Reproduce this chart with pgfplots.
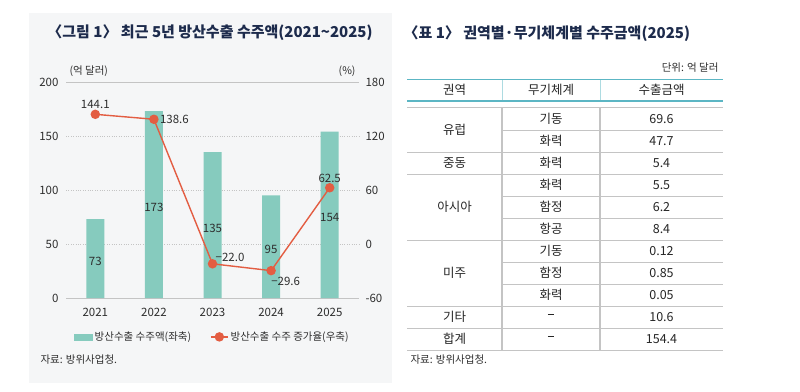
\documentclass[border=0pt]{standalone}
\usepackage{pgfplots}
\usepackage{pgfplotstable}
\pgfplotsset{compat=1.18}
\usepackage{fontspec}
\setmainfont{Noto Sans CJK KR}
\definecolor{bg}{HTML}{F5F6F7}
\definecolor{barc}{HTML}{86CBBE}
\definecolor{linec}{HTML}{E35D42}
\definecolor{navy}{HTML}{1D2B4C}
\definecolor{tealc}{HTML}{5CB6C4}
\definecolor{gridc}{HTML}{C4C4C4}
\definecolor{txt}{HTML}{2E2E2E}

\pgfplotstableread{
x v lab
0 73 73
1 173 173
2 135 135
3 95 95
4 154 154
}\bardata

\pgfplotstableread{
x y
0 144.1
1 138.6
2 -22.0
3 -29.6
4 62.5
}\linedata

\pgfplotsset{lbl/.style n args={3}{draw=none, mark=none, forget plot, nodes near coords, point meta=explicit symbolic,
  every node near coord/.append style={anchor=#1, xshift=#2, yshift=#3, font=\fontsize{11.5}{13}\selectfont, text=txt, inner sep=2pt}}}

\newcommand\dash{\rule[0.33em]{0.5em}{0.9pt}}

\begin{document}
\begin{tikzpicture}
\path[fill=white] (0pt,0pt) rectangle (800pt,-391pt);
\fill[bg] (29pt,-13pt) rectangle (392pt,-383pt);
\node[font=\fontsize{15}{17}\selectfont\bfseries, text=navy] at (210pt,-33pt) {〈그림 1〉 최근 5년 방산수출 수주액(2021\textasciitilde 2025)};

\begin{axis}[
  at={(66pt,-298pt)}, anchor=south west, scale only axis,
  width=293pt, height=216pt,
  xmin=-0.5, xmax=4.5, ymin=0, ymax=200,
  xtick={0,1,2,3,4}, xticklabels={2021,2022,2023,2024,2025},
  ytick={50,100,150},
  extra y ticks={0,200},
  extra y tick style={grid style={solid, gridc, line width=1pt}},
  axis line style={draw=none}, major tick length=0pt,
  ymajorgrids, grid style={gridc, dotted, line width=0.8pt},
  tick label style={font=\fontsize{11.5}{13}\selectfont, text=txt},
  /pgf/number format/assume math mode=true,
  yticklabel style={xshift=-4pt},
  xticklabel style={yshift=-7pt},
  clip=false,
]
\addplot[ybar, bar width=18pt, fill=barc, draw=none] table[x=x, y=v] {\bardata};
\addplot[draw=none, mark=none, nodes near coords, point meta=explicit symbolic,
  every node near coord/.append style={anchor=center, yshift=-3pt, font=\fontsize{11.5}{13}\selectfont, text=txt}]
  table[x=x, y expr=\thisrow{v}/2, meta=lab] {\bardata};
\end{axis}

\begin{axis}[
  at={(66pt,-298pt)}, anchor=south west, scale only axis,
  width=293pt, height=216pt,
  xmin=-0.5, xmax=4.5, ymin=-60, ymax=180,
  ytick={-60,0,60,120,180},
  hide x axis, axis y line*=right,
  axis line style={draw=none}, major tick length=0pt,
  tick label style={font=\fontsize{11.5}{13}\selectfont, text=txt},
  /pgf/number format/assume math mode=true,
  yticklabel style={xshift=3pt},
  clip=false,
  legend style={at={(0.5,-0.18)}, anchor=center, draw=none, fill=none,
    legend columns=2, font=\fontsize{10.5}{12}\selectfont, text=txt,
    /tikz/every even column/.append style={column sep=17pt}},
  legend cell align=left,
]
\addlegendimage{legend image code/.code={\fill[barc] (0pt,-3pt) rectangle (18pt,3pt);}}
\addlegendentry{방산수출 수주액(좌축)}
\addplot[linec, line width=1.4pt, mark=*, mark size=4pt] table[x=x, y=y] {\linedata};
\addlegendentry{방산수출 수주 증가율(우축)}
\addplot[lbl={south}{0pt}{3pt}] coordinates {(0,144.1)[144.1] (4,62.5)[62.5]};
\addplot[lbl={west}{4pt}{0pt}] coordinates {(1,138.6)[138.6]};
\addplot[lbl={south west}{1pt}{0pt}] coordinates {(2,-22.0)[−22.0]};
\addplot[lbl={north west}{-2pt}{-4pt}] coordinates {(3,-29.6)[−29.6]};
\end{axis}

\node[anchor=west, font=\fontsize{10.5}{12}\selectfont, text=txt] at (66pt,-71pt) {(억 달러)};
\node[anchor=east, font=\fontsize{10.5}{12}\selectfont, text=txt] at (359pt,-71pt) {(\%)};
\node[anchor=west, font=\fontsize{10.5}{12}\selectfont, text=txt] at (37pt,-360pt) {자료: 방위사업청.};

\begin{scope}[x=1pt, y=-1pt]
\node[anchor=west, font=\fontsize{15}{17}\selectfont\bfseries, text=navy] at (400,34) {〈표 1〉 권역별·무기체계별 수주금액(2025)};
\node[anchor=east, font=\fontsize{10.5}{12}\selectfont, text=txt] at (722,68) {단위: 억 달러};
% vertical lines
\draw[tealc!50, line width=1pt] (502,79) -- (502,101) (600,79) -- (600,101);
\draw[gridc, line width=1.2pt] (502,107) -- (502,350) (600,107) -- (600,350);
% header lines
\draw[tealc, line width=1pt] (407,79) -- (723,79);
\draw[tealc, line width=1.8pt] (407,101) -- (723,101);
\draw[gridc, line width=1.2pt] (407,107.5) -- (723,107.5);
% row lines
\foreach \yy in {152,174,240,306,328,350} \draw[gridc, line width=1pt] (407,\yy) -- (723,\yy);
\foreach \yy in {130,196,218,262,284} \draw[gridc, line width=1pt] (502,\yy) -- (723,\yy);
\begin{scope}[every node/.style={font=\fontsize{12.5}{14}\selectfont, text=black!85}]
\node at (454.5,90) {권역};
\node at (551,90) {무기체계};
\node at (661.5,90) {수출금액};
\node at (454.5,130) {유럽};
\node at (454.5,163) {중동};
\node at (454.5,207) {아시아};
\node at (454.5,273) {미주};
\node at (454.5,317) {기타};
\node at (454.5,339) {합계};
\node at (551,119) {기동};
\node at (551,141) {화력};
\node at (551,163) {화력};
\node at (551,185) {화력};
\node at (551,207) {함정};
\node at (551,229) {항공};
\node at (551,251) {기동};
\node at (551,273) {함정};
\node at (551,295) {화력};
\node at (551,317) {\dash};
\node at (551,339) {\dash};
\node at (661.5,119) {69.6};
\node at (661.5,141) {47.7};
\node at (661.5,163) {5.4};
\node at (661.5,185) {5.5};
\node at (661.5,207) {6.2};
\node at (661.5,229) {8.4};
\node at (661.5,251) {0.12};
\node at (661.5,273) {0.85};
\node at (661.5,295) {0.05};
\node at (661.5,317) {10.6};
\node at (661.5,339) {154.4};
\end{scope}
\node[anchor=west, font=\fontsize{10.5}{12}\selectfont, text=txt] at (407,360) {자료: 방위사업청.};
\end{scope}
\end{tikzpicture}
\end{document}
